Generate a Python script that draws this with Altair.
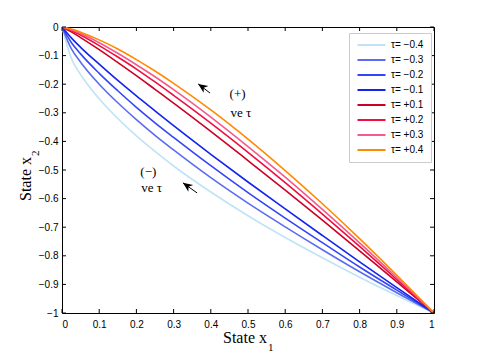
import altair as alt
import pandas as pd

# ---------------- data ----------------
x1 = [0, 0.025, 0.05, 0.1, 0.15, 0.2, 0.25, 0.3, 0.4, 0.5, 0.6, 0.7, 0.8, 0.9, 1.0]
tau_m04 = [0, -0.109, -0.166, -0.251, -0.320, -0.381, -0.435, -0.486, -0.577, -0.660, -0.736, -0.807, -0.875, -0.939, -1]
tau_m03 = [0, -0.076, -0.123, -0.200, -0.265, -0.324, -0.379, -0.430, -0.527, -0.616, -0.699, -0.779, -0.856, -0.929, -1]
tau_m02 = [0, -0.054, -0.094, -0.162, -0.223, -0.281, -0.335, -0.386, -0.485, -0.579, -0.668, -0.754, -0.839, -0.920, -1]
tau_m01 = [0, -0.038, -0.071, -0.130, -0.187, -0.241, -0.293, -0.345, -0.445, -0.542, -0.636, -0.729, -0.821, -0.911, -1]
tau_p01 = [0, -0.017, -0.037, -0.079, -0.124, -0.170, -0.218, -0.266, -0.365, -0.467, -0.570, -0.675, -0.783, -0.891, -1]
tau_p02 = [0, -0.012, -0.028, -0.065, -0.105, -0.147, -0.192, -0.239, -0.336, -0.438, -0.544, -0.654, -0.767, -0.883, -1]
tau_p03 = [0, -0.010, -0.023, -0.055, -0.092, -0.132, -0.174, -0.219, -0.315, -0.418, -0.525, -0.638, -0.755, -0.876, -1]
tau_p04 = [0, -0.007, -0.018, -0.045, -0.077, -0.114, -0.154, -0.197, -0.290, -0.392, -0.502, -0.618, -0.740, -0.868, -1]

series_names = ["τ= −0.4", "τ= −0.3", "τ= −0.2", "τ= −0.1",
                "τ= +0.1", "τ= +0.2", "τ= +0.3", "τ= +0.4"]
series_vals = [tau_m04, tau_m03, tau_m02, tau_m01, tau_p01, tau_p02, tau_p03, tau_p04]
series_colors = ["#bfe3f7", "#5c6cf2", "#3445f8", "#1424ee",
                 "#cc0024", "#ee1040", "#f55a8c", "#ff8a00"]

tick_vals = [0, 0.1, 0.2, 0.3, 0.4, 0.5, 0.6, 0.7, 0.8, 0.9, 1.0]
ytick_vals = [0, -0.1, -0.2, -0.3, -0.4, -0.5, -0.6, -0.7, -0.8, -0.9, -1.0]

ann_text = ["(+)", "ve τ", "(−)", "ve τ"]
ann_x = [0.472, 0.481, 0.232, 0.241]
ann_y = [-0.234, -0.300, -0.507, -0.563]

arrow_tip_x = [0.366, 0.325]
arrow_tip_y = [-0.199, -0.545]
arrow_tail_x = [0.398, 0.363]
arrow_tail_y = [-0.231, -0.580]

# ---------------- tables ----------------
rows = []
for name, vals in zip(series_names, series_vals):
    for xv, yv in zip(x1, vals):
        rows.append({"x": xv, "y": yv, "series": name})
df = pd.DataFrame(rows)
ticks_df = pd.DataFrame({"v": tick_vals})
yticks_df = pd.DataFrame({"v": ytick_vals})
ann_df = pd.DataFrame({"t": ann_text, "x": ann_x, "y": ann_y})
arr_df = pd.DataFrame({"x": arrow_tip_x, "y": arrow_tip_y,
                       "x2": arrow_tail_x, "y2": arrow_tail_y})

W, H = 372, 286
xs = alt.Scale(domain=[0, 1], nice=False, zero=False)
ys = alt.Scale(domain=[-1, 0], nice=False, zero=False)

LBL = dict(labelFont="Liberation Sans", labelFontSize=10, labelColor="#000",
           ticks=False, domain=False, grid=False, title=None)
XAX = alt.Axis(values=tick_vals, format="~g", labelPadding=6, **LBL)
YAX = alt.Axis(values=ytick_vals, format="~g", labelPadding=4, **LBL)


def X(f):
    return alt.X(f, scale=xs, axis=XAX)


def Y(f):
    return alt.Y(f, scale=ys, axis=YAX)


lines = alt.Chart(df).mark_line(strokeWidth=1.6, interpolate="monotone", clip=True).encode(
    x=X("x:Q"),
    y=Y("y:Q"),
    color=alt.Color("series:N", sort=series_names,
                    scale=alt.Scale(domain=series_names, range=series_colors),
                    legend=alt.Legend(orient="none", legendX=287, legendY=6, title=None,
                                      symbolType="M-1,0L7,0", symbolSize=49,
                                      symbolStrokeWidth=2, labelOffset=25,
                                      labelFont="Liberation Sans", labelFontSize=10,
                                      labelColor="#000",
                                      rowPadding=5, padding=7,
                                      strokeColor="#cccccc", fillColor="white")),
    order=alt.Order("x:Q"),
)

tb = alt.Chart(ticks_df).mark_rule(color="#000", strokeWidth=1).encode(
    x=X("v:Q"), y=alt.value(H), y2=alt.value(H - 4))
tt = alt.Chart(ticks_df).mark_rule(color="#000", strokeWidth=1).encode(
    x=X("v:Q"), y=alt.value(0), y2=alt.value(4))
tl = alt.Chart(yticks_df).mark_rule(color="#000", strokeWidth=1).encode(
    y=Y("v:Q"), x=alt.value(0), x2=alt.value(4))
tr = alt.Chart(yticks_df).mark_rule(color="#000", strokeWidth=1).encode(
    y=Y("v:Q"), x=alt.value(W), x2=alt.value(W - 4))

ann = alt.Chart(ann_df).mark_text(font="Liberation Serif", fontSize=13, color="#000",
                                  align="center", baseline="middle").encode(
    x=X("x:Q"), y=Y("y:Q"), text="t:N")

shaft = alt.Chart(arr_df).mark_rule(color="#000", strokeWidth=1).encode(
    x=X("x:Q"), y=Y("y:Q"), x2="x2:Q", y2="y2:Q")
head = alt.Chart(arr_df).mark_point(shape="M0,0L0.7,1.6L0,1.15L-0.7,1.6Z", size=144,
                                    filled=True, color="#000", opacity=1, angle=305).encode(
    x=X("x:Q"), y=Y("y:Q"))

xt = alt.Chart(ticks_df.head(1)).mark_text(font="Liberation Serif", fontSize=16, color="#000",
                                           align="right", baseline="alphabetic").encode(
    x=alt.value(205), y=alt.value(316), text=alt.value("State x"))
xt_sub = alt.Chart(ticks_df.head(1)).mark_text(font="Liberation Serif", fontSize=11, color="#000",
                                               align="left", baseline="alphabetic").encode(
    x=alt.value(206), y=alt.value(324), text=alt.value("1"))
yt = alt.Chart(ticks_df.head(1)).mark_text(font="Liberation Serif", fontSize=16, color="#000",
                                           align="right", baseline="alphabetic", angle=270).encode(
    x=alt.value(-31), y=alt.value(130), text=alt.value("State x"))
yt_sub = alt.Chart(ticks_df.head(1)).mark_text(font="Liberation Serif", fontSize=11, color="#000",
                                               align="left", baseline="alphabetic", angle=270).encode(
    x=alt.value(-23), y=alt.value(129), text=alt.value("2"))

chart = alt.layer(lines, tb, tt, tl, tr, ann, shaft, head, xt, xt_sub, yt, yt_sub).properties(
    width=W, height=H,
    autosize=alt.AutoSizeParams(type="none"),
    padding={"left": 54, "top": 19, "right": 38, "bottom": 41},
    background="white",
).configure_view(stroke="#000", strokeWidth=1)

chart.save("out.html", embed_options={"renderer": "svg", "actions": False})
